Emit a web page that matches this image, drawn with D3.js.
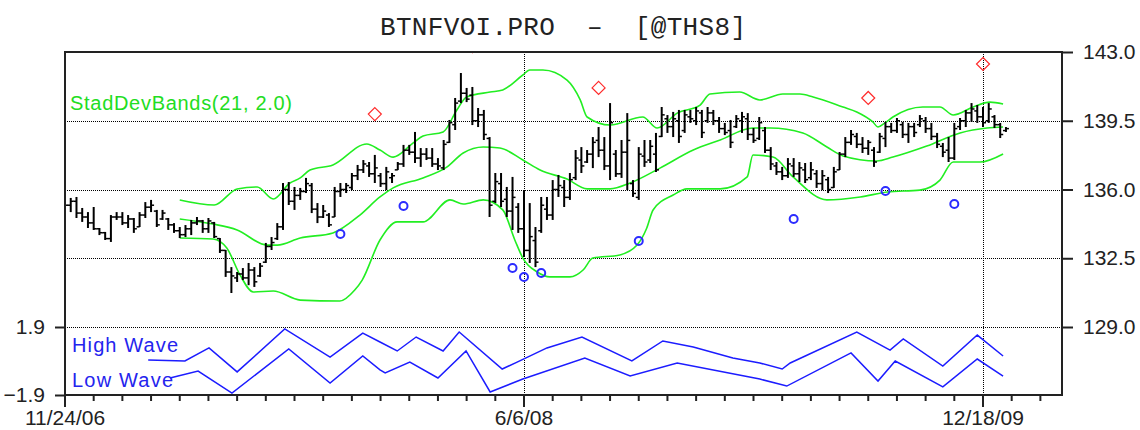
<!DOCTYPE html>
<html>
<head>
<meta charset="utf-8">
<script src="https://cdn.jsdelivr.net/npm/d3@7"></script>
<style>
body { margin: 0; background: #fff; }
svg text { font-family: "Liberation Sans", Arial, sans-serif; }
</style>
</head>
<body>
<div id="chart"></div>
<script>

// weekly bars, bar 0 = 11/24/06
var opens = [135.0,135.2,135.4,134.8,134.6,134.3,134.0,133.8,133.5,134.6,
    134.6,134.3,134.5,134.1,134.7,135.1,134.9,134.5,134.5,134.2,
    133.9,133.7,134.0,134.3,134.4,134.0,134.3,133.5,132.9,131.8,
    131.5,131.7,131.5,131.9,131.6,132.3,133.1,133.5,134.1,136.0,
    135.4,135.7,135.9,136.2,135.0,134.6,134.7,134.6,135.9,136.0,
    136.1,136.7,137.0,137.2,136.8,136.7,136.3,136.6,137.0,137.3,
    138.0,137.9,137.6,137.8,137.6,137.3,137.1,138.4,139.3,140.5,
    140.9,140.8,139.5,139.8,138.6,135.4,136.3,135.5,134.9,135.1,
    134.0,132.9,133.4,133.9,135.0,134.7,136.0,136.1,135.6,136.6,
    137.5,137.4,137.8,138.5,138.0,137.2,137.8,136.8,137.9,136.3,
    135.6,137.7,137.5,137.8,138.7,139.6,139.2,139.5,139.0,139.7,
    139.5,139.9,139.5,139.9,139.5,139.1,139.0,139.2,139.5,139.6,
    138.8,138.6,139.0,138.0,137.2,136.9,136.7,137.2,136.8,137.0,
    136.6,136.8,136.3,136.5,136.1,137.0,137.8,138.4,138.7,138.3,
    138.1,138.0,137.9,138.6,139.2,139.0,139.3,138.8,139.2,139.3,
    139.5,139.1,138.7,138.2,138.0,137.6,139.2,139.5,139.9,140.0,
    139.7,139.5,139.7,139.3,139.0];

var highs = [135.31,135.57,135.62,135.06,134.85,135.11,134.04,133.84,134.70,134.85,
    134.85,134.70,134.55,134.85,135.36,135.47,134.96,134.96,134.55,134.29,
    134.09,134.19,134.45,134.60,134.45,134.55,134.35,133.53,132.92,132.05,
    131.80,132.00,132.26,132.05,132.26,133.28,133.58,134.29,136.33,136.38,
    136.13,136.08,136.59,136.33,135.31,135.21,134.80,136.13,136.33,136.33,
    136.84,137.25,137.50,137.40,137.76,136.84,137.15,136.84,137.40,138.27,
    138.27,138.93,138.11,138.11,138.11,137.60,138.52,139.54,140.66,141.93,
    141.17,141.22,140.15,140.05,138.67,136.84,136.84,136.13,136.64,135.31,
    135.97,135.31,134.09,135.62,135.62,136.48,136.74,136.48,136.84,138.01,
    138.16,138.01,138.67,139.18,138.67,140.40,138.01,138.52,139.89,136.48,
    138.16,138.52,138.52,138.88,140.20,139.79,139.95,140.05,140.05,140.05,
    140.20,140.05,140.20,140.05,139.69,139.39,139.54,139.79,139.95,139.89,
    139.13,139.69,139.18,138.16,137.40,137.15,137.60,137.60,137.40,137.35,
    137.40,136.99,136.99,136.64,137.15,137.91,138.67,139.03,138.88,138.67,
    138.52,138.16,138.88,139.44,139.39,139.64,139.44,139.39,139.39,139.79,
    139.69,139.39,138.88,138.37,138.67,139.39,139.64,140.05,140.40,140.30,
    140.20,140.40,139.79,139.39,139.18];

var lows = [134.60,134.85,134.55,134.35,134.04,133.94,133.68,133.43,133.33,134.45,
    134.19,134.04,133.79,134.09,134.55,134.85,134.09,134.45,133.94,133.79,
    133.53,133.58,133.68,134.19,133.79,133.79,133.53,132.77,131.55,130.73,
    131.29,131.39,131.13,131.04,131.55,132.26,132.92,133.43,133.94,135.21,
    134.96,135.47,135.82,134.80,134.29,134.55,134.09,134.60,135.62,135.82,
    135.97,136.48,136.84,136.64,136.33,136.13,135.97,136.33,136.99,137.15,
    137.76,137.35,137.15,137.50,137.15,136.99,136.99,138.37,139.03,140.40,
    140.45,139.28,139.18,138.52,134.60,135.31,135.11,134.60,133.94,133.79,
    132.56,132.26,132.05,133.79,134.45,134.45,135.62,135.11,135.47,136.48,
    136.84,137.35,137.09,137.65,136.99,136.48,136.64,136.59,135.97,135.62,
    135.47,137.15,137.35,136.89,138.67,138.88,138.67,138.37,138.88,139.39,
    139.28,138.62,139.39,139.28,138.88,138.77,138.11,139.13,138.88,138.52,
    138.37,138.52,137.86,136.99,136.74,136.48,136.59,136.64,136.38,136.33,
    136.48,136.08,135.97,135.82,136.08,136.99,137.65,138.27,138.11,137.86,
    137.76,137.15,137.86,138.16,138.88,138.88,138.62,138.37,138.67,139.18,
    138.88,138.52,138.11,137.65,137.40,137.50,139.03,139.18,139.44,139.39,
    139.18,139.39,139.13,138.62,138.93];

var closes = [135.2,135.4,134.8,134.6,134.3,134.0,133.8,133.5,134.6,134.6,
    134.3,134.5,134.0,134.7,135.1,135.2,134.2,134.8,134.2,133.9,
    133.7,134.0,134.3,134.4,134.0,134.4,133.6,132.9,131.8,131.6,
    131.7,131.5,131.9,131.3,132.1,133.1,133.3,134.1,136.0,135.4,
    135.7,135.9,136.3,135.0,134.6,134.9,134.2,135.9,136.0,136.2,
    136.7,137.0,137.3,136.8,137.1,136.3,136.9,136.7,137.3,138.0,
    137.9,137.6,137.8,137.6,137.3,137.2,138.3,139.4,140.4,140.9,
    140.6,139.5,139.8,138.8,135.2,136.4,135.4,134.9,135.6,134.0,
    132.9,133.6,132.3,135.2,134.7,136.0,136.2,135.6,136.5,137.6,
    137.2,137.8,138.4,138.0,137.2,139.4,136.8,137.9,138.5,135.8,
    137.8,137.4,138.2,137.0,139.8,139.2,139.6,138.7,139.8,139.6,
    140.0,138.9,139.9,139.5,139.1,138.9,138.4,139.6,139.7,138.8,
    138.5,139.4,138.0,137.3,136.9,136.7,137.3,136.8,137.1,136.5,
    137.0,136.3,136.7,136.0,136.9,137.8,138.4,138.8,138.3,138.1,
    138.4,137.4,138.7,139.2,139.0,139.5,138.8,139.2,138.9,139.6,
    139.1,138.7,138.3,137.9,137.6,139.1,139.5,139.9,140.1,139.7,
    139.4,140.1,139.3,138.8,139.1];

// StadDevBands(21, 2.0): [bar, price]
var upperBand = [[20,135.47],[26,135.21],[30,136.03],[33.5,136.13],[36.3,135.52],[39.2,136.33],
    [41,136.59],[42.7,136.99],[46.7,137.25],[52.6,138.32],[54.9,138.01],[57.2,137.65],[60.7,138.37],
    [62.4,138.72],[65.9,138.93],[68.3,140.05],[70,140.71],[74.1,140.96],[76.3,141.07],[79.8,141.83],
    [81,142.08],[83.3,142.08],[87.5,141.57],[89.8,140.56],[91,139.69],[95,139.28],[100.7,139.69],
    [103.2,139.13],[106.7,139.89],[110.7,140.30],[112.4,140.86],[117.6,140.96],[121.1,140.56],
    [125.1,140.86],[128.1,140.86],[130.4,140.71],[135.6,140.20],[138,139.95],[140.8,139.44],
    [141.7,139.18],[142.9,139.39],[144.3,139.69],[149.5,140.20],[152.5,140.20],[154.8,139.79],
    [158.3,140.20],[161.2,140.45],[163.5,140.35]];

var middleBand = [[20,134.50],[25.8,134.24],[30,133.94],[35.2,133.17],[37,133.17],[41,133.53],
    [46.7,133.79],[51.4,134.70],[54.9,135.62],[57.2,136.08],[62.4,136.59],[66.6,137.15],[69.4,137.86],
    [72.9,138.16],[75.8,138.11],[79.8,137.50],[82.8,136.99],[87.5,136.53],[91,136.03],[95,136.03],
    [98.5,136.33],[103.7,137.09],[109.5,138.01],[114.2,138.52],[119.9,139.13],[122.9,139.13],
    [128.6,138.88],[132.8,138.16],[135.6,137.71],[141.5,137.45],[144.3,137.65],[150.2,138.21],
    [156,138.88],[160.7,139.13],[163.5,139.18]];

var lowerBand = [[20,133.53],[25.8,133.48],[28.2,133.02],[30.5,131.65],[32.8,130.78],[36.3,130.83],
    [41,130.37],[47.9,130.32],[50.5,130.88],[51.8,131.39],[54.9,133.43],[57.9,134.35],[62.4,134.35],
    [67.1,135.47],[69.4,135.26],[72.9,135.47],[76.3,134.96],[78.4,133.43],[79.8,132.51],[82.3,131.80],
    [84.5,131.55],[88,131.55],[90.3,131.90],[92,132.51],[96.7,132.67],[99.7,133.17],[101.4,134.04],
    [102.5,134.96],[106,135.72],[108.4,136.03],[114.2,136.03],[118.9,136.64],[119.9,137.76],
    [123.4,137.65],[126.9,136.64],[132.8,135.47],[138.6,135.62],[143.3,135.87],[149,135.97],
    [152.5,136.48],[154.8,137.40],[159.5,137.40],[163.5,137.81]];

// swing markers
var peakBars = [54, 71, 93, 140, 160];
var peakPrices = [139.84, 143.30, 141.17, 140.66, 142.39];
var troughBars = [48, 59, 78, 80, 83, 100, 127, 143, 155];
var troughPrices = [133.73, 135.16, 132.00, 131.55, 131.75, 133.38, 134.50, 135.92, 135.26];

// lower panel
var highWave = [[14.5,0.06],[20.9,0.00],[25.1,0.73],[30,-0.61],[38.3,1.79],[46.2,0.22],[51.9,1.56],
    [54.9,1.06],[57.9,0.56],[61.2,1.34],[65.9,0.56],[68.7,1.62],[76.2,-0.45],[78.8,-0.06],[84,0.73],
    [90.1,1.34],[98.8,0.00],[104.2,1.12],[109.5,0.78],[116.4,0.17],[121.1,-0.11],[125,-0.45],
    [126.4,-0.11],[138,1.62],[143.8,0.61],[146.1,1.23],[153,-0.28],[159,1.45],[163.5,0.28]];

var lowWave = [[18.3,-0.95],[23.2,-0.56],[29.1,-1.79],[39,0.67],[46.2,-1.23],[51.9,0.28],[54.9,-0.50],
    [55.8,-0.67],[60.1,-0.06],[65,-0.95],[69.9,0.56],[74.1,-1.73],[79.8,-1.01],[90.6,0.17],[98.5,-0.84],
    [106.7,-0.11],[121.1,-1.01],[125.8,-1.40],[137,0.45],[141.7,-1.12],[144.7,0.00],[153,-1.45],
    [159,0.11],[163.5,-0.84]];

var priceTicks = [143.0, 139.5, 136.0, 132.5, 129.0];
var waveTicks = [1.9, -1.9];
var dateBars = [0, 80, 160];
var dateLabels = ["11/24/06", "6/6/08", "12/18/09"];

var width = 1140, height = 430;
var plotLeft = 65, plotRight = 1062, plotTop = 52, panelSplit = 327, plotBottom = 395;

var x = d3.scaleLinear().domain([0, 160]).range([plotLeft, 983]);
var yPrice = d3.scaleLinear().domain([129, 143]).range([panelSplit, plotTop]);
var yWave = d3.scaleLinear().domain([-1.9, 1.9]).range([plotBottom, panelSplit]);

var svg = d3.select("#chart")
    .append("svg")
    .attr("width", width)
    .attr("height", height);

svg.append("defs").append("clipPath")
    .attr("id", "plotclip")
  .append("rect")
    .attr("x", plotLeft).attr("y", plotTop)
    .attr("width", plotRight - plotLeft).attr("height", plotBottom - plotTop);

// title
svg.append("text")
    .attr("x", 380).attr("y", 35)
    .attr("textLength", 366)
    .style("font-family", "'Liberation Mono', 'Courier New', monospace")
    .style("font-size", "26px")
    .style("white-space", "pre")
    .attr("fill", "#222")
    .text("BTNFVOI.PRO  \u2013  [@THS8]");

// grid
var grid = svg.append("g").attr("stroke", "#000").attr("stroke-width", 1).attr("stroke-dasharray", "1,1");
grid.selectAll("line.h")
    .data(priceTicks.slice(1))
    .enter().append("line")
    .attr("x1", plotLeft).attr("x2", plotRight)
    .attr("y1", function (d) { return Math.round(yPrice(d)) + 0.5; })
    .attr("y2", function (d) { return Math.round(yPrice(d)) + 0.5; });
grid.selectAll("line.v")
    .data(dateBars.slice(1))
    .enter().append("line")
    .attr("y1", plotTop).attr("y2", plotBottom)
    .attr("x1", function (d) { return Math.round(x(d)) + 0.5; })
    .attr("x2", function (d) { return Math.round(x(d)) + 0.5; });

var plot = svg.append("g").attr("clip-path", "url(#plotclip)");

// bands
var bandLine = d3.line()
    .x(function (d) { return x(d[0]); })
    .y(function (d) { return yPrice(d[1]); })
    .curve(d3.curveMonotoneX);

[upperBand, middleBand, lowerBand].forEach(function (band) {
    plot.append("path")
        .attr("d", bandLine(band))
        .attr("fill", "none")
        .attr("stroke", "#22ee22")
        .attr("stroke-width", 1.6);
});

// OHLC bars
var bars = plot.append("g").attr("stroke", "#000");
var idx = d3.range(closes.length);
bars.selectAll("line.hl")
    .data(idx).enter().append("line")
    .attr("x1", function (i) { return x(i); })
    .attr("x2", function (i) { return x(i); })
    .attr("y1", function (i) { return yPrice(highs[i]); })
    .attr("y2", function (i) { return yPrice(lows[i]); })
    .attr("stroke-width", 2);
bars.selectAll("line.o")
    .data(idx).enter().append("line")
    .attr("x1", function (i) { return x(i) - 3; })
    .attr("x2", function (i) { return x(i); })
    .attr("y1", function (i) { return yPrice(opens[i]); })
    .attr("y2", function (i) { return yPrice(opens[i]); })
    .attr("stroke-width", 1.5);
bars.selectAll("line.c")
    .data(idx).enter().append("line")
    .attr("x1", function (i) { return x(i); })
    .attr("x2", function (i) { return x(i) + 3; })
    .attr("y1", function (i) { return yPrice(closes[i]); })
    .attr("y2", function (i) { return yPrice(closes[i]); })
    .attr("stroke-width", 1.5);

// markers
plot.selectAll("path.peak")
    .data(peakBars).enter().append("path")
    .attr("d", "M0,-6.5L6.5,0L0,6.5L-6.5,0Z")
    .attr("transform", function (d, i) { return "translate(" + x(d) + "," + yPrice(peakPrices[i]) + ")"; })
    .attr("fill", "none")
    .attr("stroke", "#ff2a2a")
    .attr("stroke-width", 1.2);

plot.selectAll("circle.trough")
    .data(troughBars).enter().append("circle")
    .attr("cx", function (d) { return x(d); })
    .attr("cy", function (d, i) { return yPrice(troughPrices[i]); })
    .attr("r", 4)
    .attr("fill", "none")
    .attr("stroke", "#2b2bff")
    .attr("stroke-width", 2);

// waves
var waveLine = d3.line()
    .x(function (d) { return x(d[0]); })
    .y(function (d) { return yWave(d[1]); });
[highWave, lowWave].forEach(function (w) {
    plot.append("path")
        .attr("d", waveLine(w))
        .attr("fill", "none")
        .attr("stroke", "#1c1cff")
        .attr("stroke-width", 1.5);
});

// legends
svg.append("text").attr("x", 70).attr("y", 110).attr("textLength", 222)
    .style("font-size", "20px").attr("fill", "#22dd22").text("StadDevBands(21, 2.0)");
svg.append("text").attr("x", 72).attr("y", 352).attr("textLength", 106)
    .style("font-size", "20px").attr("fill", "#2424ee").text("High Wave");
svg.append("text").attr("x", 72).attr("y", 387).attr("textLength", 101)
    .style("font-size", "20px").attr("fill", "#2424ee").text("Low Wave");

// frame
svg.append("rect")
    .attr("x", plotLeft).attr("y", plotTop)
    .attr("width", plotRight - plotLeft).attr("height", plotBottom - plotTop)
    .attr("fill", "none").attr("stroke", "#222").attr("stroke-width", 2);

// right price axis
var rightAxis = d3.axisRight(yPrice)
    .tickValues(priceTicks)
    .tickFormat(d3.format(".1f"))
    .tickSize(11)
    .tickPadding(10);
var ra = svg.append("g").attr("transform", "translate(" + plotRight + ",0)").call(rightAxis);
ra.select(".domain").remove();
ra.selectAll("line").attr("stroke", "#222").attr("stroke-width", 2);
ra.selectAll("text").style("font-size", "21px").attr("fill", "#222")
    .style("font-family", "'Liberation Sans', Arial, sans-serif");

// left wave axis
var leftAxis = d3.axisLeft(yWave)
    .tickValues(waveTicks)
    .tickFormat(d3.format(".1f"))
    .tickSize(10)
    .tickPadding(10);
var la = svg.append("g").attr("transform", "translate(" + plotLeft + ",0)").call(leftAxis);
la.select(".domain").remove();
la.selectAll("line").attr("stroke", "#222").attr("stroke-width", 2);
la.selectAll("text").style("font-size", "21px").attr("fill", "#222")
    .style("font-family", "'Liberation Sans', Arial, sans-serif");

// bottom date axis
var ba = svg.append("g").attr("transform", "translate(0," + plotBottom + ")");
ba.selectAll("line.minor")
    .data(d3.range(0, 175, 5)).enter().append("line")
    .attr("x1", function (d) { return x(d); })
    .attr("x2", function (d) { return x(d); })
    .attr("y1", 0)
    .attr("y2", function (d) { return dateBars.indexOf(d) >= 0 ? 12 : 6; })
    .attr("stroke", "#222").attr("stroke-width", 2);
ba.selectAll("text")
    .data(dateBars).enter().append("text")
    .attr("x", function (d) { return x(d); })
    .attr("y", 30)
    .attr("text-anchor", "middle")
    .style("font-size", "21px").attr("fill", "#222")
    .text(function (d, i) { return dateLabels[i]; });

</script>
</body>
</html>
